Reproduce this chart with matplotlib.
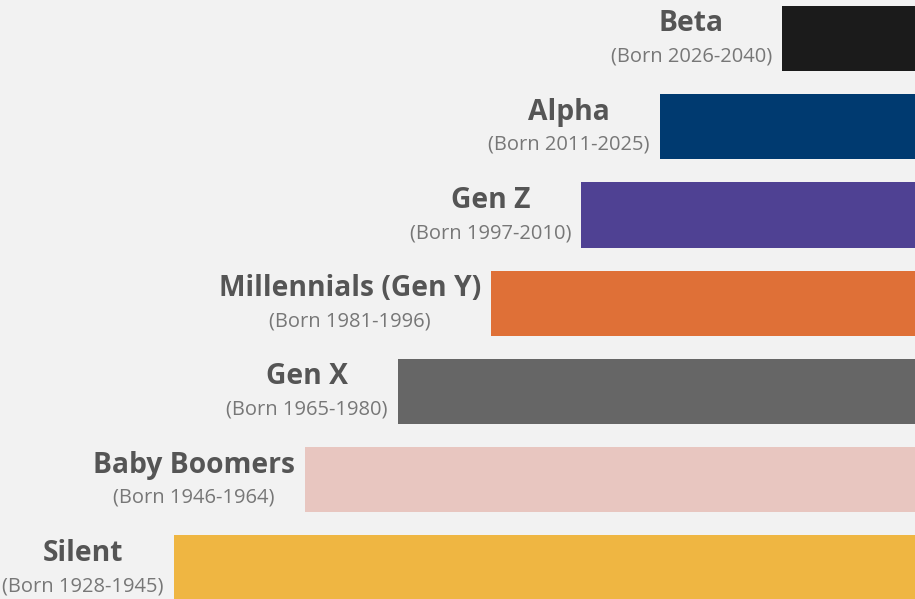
import matplotlib.pyplot as plt

# Generations, top to bottom
names = ['Beta', 'Alpha', 'Gen Z', 'Millennials (Gen Y)', 'Gen X', 'Baby Boomers', 'Silent']
born = ['(Born 2026-2040)', '(Born 2011-2025)', '(Born 1997-2010)', '(Born 1981-1996)',
        '(Born 1965-1980)', '(Born 1946-1964)', '(Born 1928-1945)']
lengths = [133, 255, 334, 424, 517, 610, 741]
colors = ['#1b1b1b', '#003a70', '#4f4193', '#df7037', '#666666', '#e8c6c0', '#efb642']

bg = '#f2f2f2'
fig = plt.figure(figsize=(9.15, 5.99), dpi=100, facecolor=bg)
ax = fig.add_axes([0, 0, 1, 1], facecolor=bg)

ypos = range(len(names))
ax.barh(ypos, lengths, height=0.74, color=colors)
ax.set_xlim(915, 0)  # bars grow from the right edge
ax.set_ylim(6.35, -0.436)
ax.axis('off')

renderer = fig.canvas.get_renderer()
gap = 10  # px between label block and bar
ty, sy = 10.5, -13  # title / subtitle offsets in points
for i, (n, b, L) in enumerate(zip(names, born, lengths)):
    t1 = ax.annotate(n, (L, i), xytext=(0, ty), textcoords='offset points',
                     ha='center', va='center', fontsize=20.3, fontweight='bold',
                     family='Open Sans', color='#555555')
    t2 = ax.annotate(b, (L, i), xytext=(0, sy), textcoords='offset points',
                     ha='center', va='center', fontsize=14.5,
                     family='Open Sans', color='#777777')
    w = max(t1.get_window_extent(renderer).width, t2.get_window_extent(renderer).width)
    dx = -(gap + w / 2) * 0.72
    t1.set_position((dx, ty))
    t2.set_position((dx, sy))

fig.savefig('out.png', dpi=100, facecolor=bg)
